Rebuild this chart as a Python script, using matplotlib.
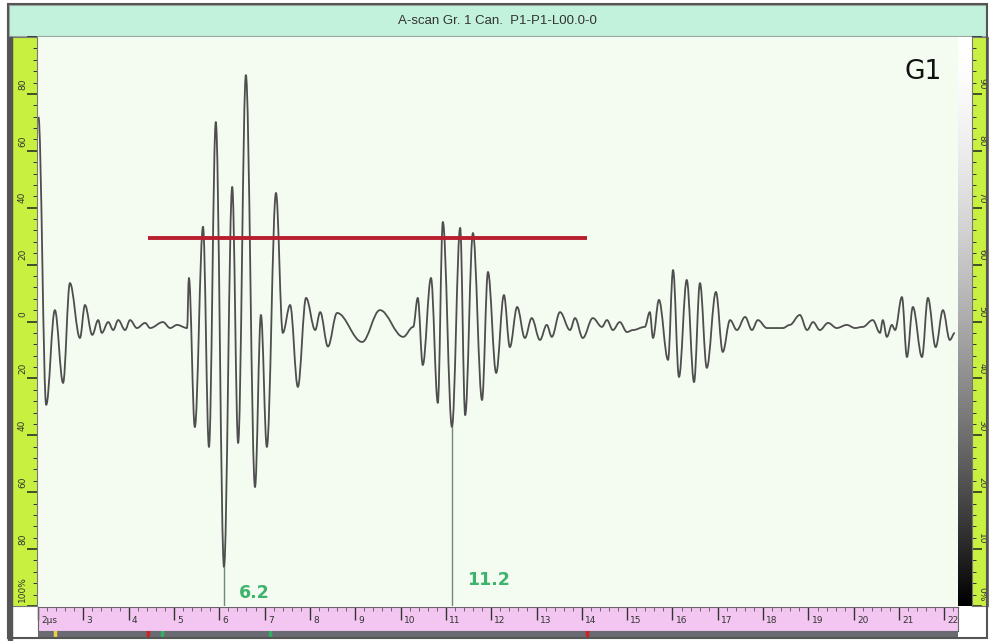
import numpy as np
import matplotlib
matplotlib.use("Agg")
import matplotlib.pyplot as plt
from matplotlib.patches import Rectangle, PathPatch
from matplotlib.path import Path

W, H = 989, 641

# A-scan trace, vertices (time in us, amplitude in % FSH)
time_us = [2.13, 2.30, 2.49, 2.67, 2.82, 3.04, 3.15, 3.31, 3.44, 3.52,
           3.66, 3.77, 3.88, 4.03, 4.14, 4.29, 4.47, 4.58, 4.86, 5.02,
           5.17, 5.39, 5.43, 5.56, 5.74, 5.87, 6.02, 6.20, 6.38, 6.51,
           6.68, 6.88, 7.01, 7.14, 7.34, 7.49, 7.65, 7.82, 8.00, 8.20,
           8.31, 8.48, 8.68, 9.23, 9.62, 10.13, 10.35, 10.45, 10.56, 10.74,
           10.89, 11.00, 11.20, 11.38, 11.49, 11.66, 11.86, 11.99, 12.17, 12.34,
           12.47, 12.63, 12.80, 12.95, 13.13, 13.28, 13.39, 13.57, 13.79, 13.90,
           14.07, 14.29, 14.49, 14.60, 14.73, 14.88, 15.04, 15.17, 15.43, 15.54,
           15.61, 15.74, 15.94, 16.05, 16.18, 16.35, 16.51, 16.64, 16.79, 16.99,
           17.14, 17.30, 17.45, 17.63, 17.78, 17.91, 18.11, 18.33, 18.46, 18.61,
           18.83, 18.99, 19.12, 19.27, 19.45, 19.64, 19.86, 20.04, 20.21, 20.43,
           20.59, 20.65, 20.74, 20.85, 20.92, 21.07, 21.18, 21.31, 21.51, 21.64,
           21.81, 21.97, 22.12, 22.23]
amp_pct = [71.9, -29.3, 4.0, -21.6, 13.5, -5.8, 5.8, -4.7, 0.5, -4.0,
           -0.2, -3.0, 0.5, -3.0, 0.5, -2.3, -0.5, -2.3, -0.2, -2.3,
           -1.2, -2.3, 15.3, -37.1, 33.3, -44.1, 70.1, -86.3, 47.3, -42.7,
           86.6, -58.2, 2.3, -44.1, 45.2, -4.0, 5.8, -23.0, 8.3, -3.0,
           3.3, -8.8, 3.0, -7.2, 4.0, -5.4, -1.9, 8.3, -15.3, 15.3,
           -28.6, 35.0, -37.1, 32.9, -32.9, 31.1, -27.6, 17.4, -18.1, 9.3,
           -9.0, 5.1, -5.8, 1.2, -6.5, -1.2, -5.4, 3.3, -3.0, 1.2,
           -5.8, 1.2, -1.9, 0.5, -3.0, -0.2, -3.7, -3.0, -1.9, 3.3,
           -5.8, 7.6, -13.5, 18.1, -19.5, 14.6, -21.3, 13.5, -16.3, 10.4,
           -10.7, 0.5, -3.0, 1.6, -3.0, 0.5, -2.3, -2.3, -2.3, -1.2,
           2.3, -3.0, -0.2, -3.0, -0.5, -2.3, -1.2, -2.3, -1.9, 0.5,
           -4.0, 0.5, -5.4, -1.2, -3.0, 8.6, -12.5, 5.1, -12.5, 8.3,
           -9.0, 4.0, -6.5, -4.0]

gate_start, gate_end, gate_level = 4.53, 14.16, 29.3
cursor_us = [6.2, 11.2]
cursor_amp = [-86.3, -37.1]
cursor_text = ["6.2", "11.2"]
cursor_text_amp = [-95.5, -91.0]

x_range = (2.12, 22.30)
time_ticks = list(range(2, 23))
time_labels = ["2\u00b5s"] + [str(t) for t in range(3, 23)]
left_ticks = [80, 60, 40, 20, 0, -20, -40, -60, -80, -100]
left_labels = ["80", "60", "40", "20", "0", "20", "40", "60", "80", "100%"]
right_ticks = [80, 60, 40, 20, 0, -20, -40, -60, -80, -100]
right_labels = ["90", "80", "70", "60", "50", "40", "30", "20", "10", "0%"]
strip_marks_us = [2.49, 4.53, 4.84, 7.21, 14.16]
strip_marks_col = ["#e8d040", "#d02020", "#30b060", "#30b060", "#d02020"]

RULER = "#c8f040"
PINK = "#f2c6f0"
PLOT_BG = "#f4fbf0"


def box(x0, y0, x1, y1):
    return [x0 / W, 1 - y1 / H, (x1 - x0) / W, (y1 - y0) / H]


def wave_path(xs, ys, k=0.36):
    # smooth half-wave between successive extremes (flat tangent at each vertex)
    verts = [(xs[0], ys[0])]
    codes = [Path.MOVETO]
    for i in range(1, len(xs)):
        dx = xs[i] - xs[i - 1]
        verts += [(xs[i - 1] + k * dx, ys[i - 1]), (xs[i] - k * dx, ys[i]), (xs[i], ys[i])]
        codes += [Path.CURVE4] * 3
    return Path(verts, codes)


fig = plt.figure(figsize=(W / 100, H / 100), dpi=100)
fig.patch.set_facecolor("white")

# outer frame
fig.patches.append(Rectangle((8 / W, 3 / H), 979 / W, 634 / H, transform=fig.transFigure,
                             fill=False, edgecolor="#555555", lw=1.5))

# title bar
tax = fig.add_axes(box(9, 5, 986, 36))
tax.set_facecolor("#c2f2dc")
tax.set_xticks([]); tax.set_yticks([])
for s in tax.spines.values():
    s.set_color("#9aa8a0")
tax.text(0.5, 0.5, "A-scan Gr. 1 Can.  P1-P1-L00.0-0", ha="center", va="center",
         fontsize=9.5, color="#333333", family="Liberation Sans")

# main plot
ax = fig.add_axes(box(38, 37, 958, 606))
ax.set_facecolor(PLOT_BG)
ax.set_xlim(*x_range)
ax.set_ylim(-100, 100)
ax.set_xticks([]); ax.set_yticks([])
for s in ax.spines.values():
    s.set_visible(False)
ax.add_patch(PathPatch(wave_path(time_us, amp_pct), fill=False, edgecolor="#4e4e4e",
                       lw=1.3, joinstyle="round"))
ax.plot([gate_start, gate_end], [gate_level, gate_level], color="#b81e2e", lw=2.8,
        solid_capstyle="butt")
for t, a, lab, ta in zip(cursor_us, cursor_amp, cursor_text, cursor_text_amp):
    ax.plot([t, t], [a, -100], color="#708a7a", lw=1.0)
    ax.text(t + 0.33, ta, lab, color="#3db36b", fontsize=12.5, fontweight="bold",
            ha="left", va="center")
ax.text(0.962, 0.938, "G1", transform=ax.transAxes, fontsize=19, ha="center",
        va="center", color="#111111")

# left amplitude ruler
fig.patches.append(Rectangle((8 / W, 1 - 640 / H), 4 / W, 603 / H, transform=fig.transFigure,
                             color="#555555"))
lax = fig.add_axes(box(12, 37, 37, 606))
lax.set_facecolor(RULER)
lax.set_ylim(-100, 100); lax.set_xlim(0, 1)
lax.set_xticks([])
lax.yaxis.tick_right()
lax.set_yticks(left_ticks + [100])
lax.set_yticks(np.arange(-100, 101, 4), minor=True)
lax.tick_params(axis="y", which="major", direction="in", length=7, width=1.1,
                color="#222222", labelright=False)
lax.tick_params(axis="y", which="minor", direction="in", length=3, width=0.7,
                color="#333333")
for s in lax.spines.values():
    s.set_color("#777777")
for v, lab in zip(left_ticks, left_labels):
    lax.text(0.42, v + 1.5, lab, rotation=90, ha="center", va="bottom",
             fontsize=6.5, color="#333333")

# colour palette strip and right ruler
gax = fig.add_axes(box(958, 37, 972, 606))
gax.imshow(np.linspace(0, 1, 256).reshape(-1, 1) ** 1.6, cmap="gray_r", aspect="auto",
           extent=(0, 1, 0, 1))
gax.set_xticks([]); gax.set_yticks([])
for s in gax.spines.values():
    s.set_visible(False)

rax = fig.add_axes(box(972, 37, 988, 606))
rax.set_facecolor(RULER)
rax.set_ylim(-100, 100); rax.set_xlim(0, 1)
rax.set_xticks([])
rax.set_yticks(right_ticks + [100])
rax.set_yticks(np.arange(-100, 101, 4), minor=True)
rax.tick_params(axis="y", which="major", direction="in", length=7, width=1.1,
                color="#222222", labelleft=False)
rax.tick_params(axis="y", which="minor", direction="in", length=3, width=0.7,
                color="#333333")
for s in rax.spines.values():
    s.set_color("#777777")
for v, lab in zip(right_ticks, right_labels):
    rax.text(0.62, v + 1.5, lab, rotation=270, ha="center", va="bottom",
             fontsize=6.5, color="#333333")

# bottom time ruler
bax = fig.add_axes(box(38, 607, 958, 631))
bax.set_facecolor(PINK)
bax.set_xlim(*x_range); bax.set_ylim(0, 1)
bax.set_yticks([])
bax.xaxis.tick_top()
bax.set_xticks(time_ticks)
bax.set_xticks(np.arange(2, 22.4, 0.2), minor=True)
bax.tick_params(axis="x", which="major", direction="in", length=9, width=1.0,
                color="#333333", labeltop=False)
bax.tick_params(axis="x", which="minor", direction="in", length=3, width=0.6,
                color="#555555")
for s in bax.spines.values():
    s.set_color("#666666")
for t, lab in zip(time_ticks, time_labels):
    bax.text(t + 0.07, 0.42, lab, ha="left", va="center", fontsize=6.5,
             color="#333333", clip_on=True)

# cursor strip under the time ruler
sax = fig.add_axes(box(38, 631, 958, 637))
sax.set_facecolor("#6a6a72")
sax.set_xlim(*x_range); sax.set_ylim(0, 1)
sax.set_xticks([]); sax.set_yticks([])
for s in sax.spines.values():
    s.set_visible(False)
for t, c in zip(strip_marks_us, strip_marks_col):
    sax.plot([t, t], [0, 1], color=c, lw=2.5)

fig.savefig("out.png", dpi=100)
